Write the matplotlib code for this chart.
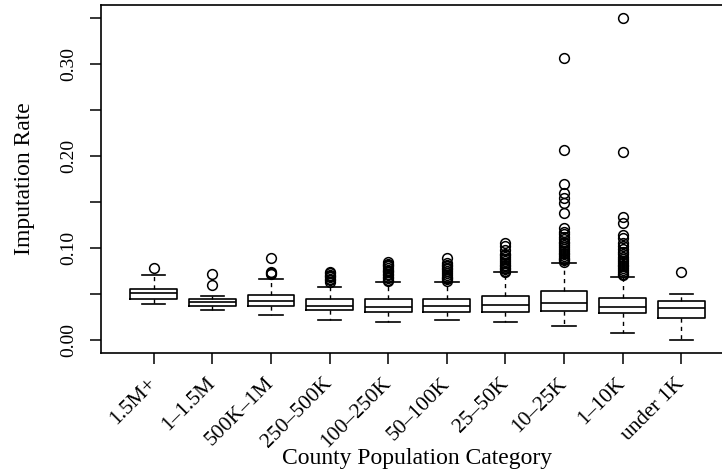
import matplotlib
matplotlib.use("Agg")
import matplotlib.pyplot as plt

plt.rcParams['font.family'] = ['Liberation Serif', 'DejaVu Serif']

# Population categories, largest to smallest
categories = ['1.5M+', '1\u20131.5M', '500K\u20131M', '250\u2013500K', '100\u2013250K',
              '50\u2013100K', '25\u201350K', '10\u201325K', '1\u201310K', 'under 1K']

# Box statistics
whislo = [0.0391, 0.0330, 0.0268, 0.0217, 0.0199, 0.0215, 0.0199, 0.0149, 0.0080, 0.0000]
q1     = [0.0449, 0.0373, 0.0366, 0.0330, 0.0310, 0.0308, 0.0308, 0.0319, 0.0297, 0.0236]
med    = [0.0507, 0.0413, 0.0420, 0.0370, 0.0362, 0.0372, 0.0382, 0.0402, 0.0362, 0.0344]
q3     = [0.0551, 0.0449, 0.0493, 0.0449, 0.0442, 0.0442, 0.0480, 0.0529, 0.0460, 0.0420]
whishi = [0.0703, 0.0478, 0.0660, 0.0580, 0.0630, 0.0630, 0.0735, 0.0840, 0.0688, 0.0500]

# Outliers per category
fliers = [
    [0.0786],
    [0.0714, 0.0598],
    [0.0888, 0.0743, 0.0730, 0.0722],
    [0.0738, 0.0725, 0.0712, 0.0700, 0.0685, 0.0668, 0.0650, 0.0635],
    [0.0851, 0.0830, 0.0815, 0.0800, 0.0780, 0.0765, 0.0750, 0.0735, 0.0720,
     0.0705, 0.0690, 0.0670, 0.0655, 0.0640],
    [0.0888, 0.0836, 0.0815, 0.0800, 0.0785, 0.0770, 0.0750, 0.0730, 0.0710,
     0.0690, 0.0675, 0.0660, 0.0645],
    [0.1050, 0.1018, 0.0980, 0.0940, 0.0920, 0.0900, 0.0880, 0.0860, 0.0840,
     0.0820, 0.0800, 0.0785, 0.0770, 0.0755, 0.0745],
    [0.3065, 0.2065, 0.1700, 0.1594, 0.1540, 0.1486, 0.1377, 0.1214, 0.1178,
     0.1150, 0.1123, 0.1100, 0.1070, 0.1050, 0.1030, 0.1010, 0.0990, 0.0970,
     0.0950, 0.0930, 0.0910, 0.0895, 0.0880, 0.0865, 0.0850],
    [0.3496, 0.2043, 0.1340, 0.1268, 0.1141, 0.1105, 0.1050, 0.1020, 0.0990,
     0.0960, 0.0930, 0.0900, 0.0880, 0.0860, 0.0840, 0.0820, 0.0800, 0.0780,
     0.0760, 0.0740, 0.0720, 0.0705],
    [0.0739],
]

stats = []
for i in range(len(categories)):
    stats.append(dict(label=categories[i], whislo=whislo[i], q1=q1[i], med=med[i],
                      q3=q3[i], whishi=whishi[i], fliers=fliers[i]))

fig = plt.figure(figsize=(7.22, 4.72), dpi=100)
ax = fig.add_axes([101 / 722, 119 / 472, 633 / 722, 348 / 472])

line = dict(color='black', linewidth=1.2)
ax.bxp(stats, positions=range(1, 11), widths=0.8, showfliers=True,
       boxprops=line, medianprops=line, capprops=line,
       whiskerprops=dict(color='black', linewidth=1.0, linestyle=(0, (3, 3))),
       flierprops=dict(marker='o', markerfacecolor='none', markeredgecolor='black',
                       markersize=7, markeredgewidth=1.1),
       capwidths=0.4)

ax.set_xlim(0.1, 10.9)
ax.set_ylim(-0.014, 0.364)

yt = [0.0, 0.05, 0.10, 0.15, 0.20, 0.25, 0.30, 0.35]
ax.set_yticks(yt)
ax.set_yticklabels(['0.00', '', '0.10', '', '0.20', '', '0.30', ''],
                   rotation=90, va='center', fontsize=14)
ax.set_xticks(range(1, 11))
ax.set_xticklabels(categories, rotation=45, ha='right', va='center',
                   rotation_mode='anchor', fontsize=15.5)
ax.tick_params(direction='out', length=8, width=1.1, colors='black')
ax.tick_params(axis='x', pad=12)
ax.tick_params(axis='y', pad=9)

for s in ax.spines.values():
    s.set_linewidth(1.2)

ax.set_ylabel('Imputation Rate', fontsize=17)
ax.set_xlabel('County Population Category', fontsize=17)
ax.yaxis.set_label_coords(-0.104, 0.5)
ax.xaxis.set_label_coords(0.5, -0.274)

fig.savefig('out.png', dpi=100)
